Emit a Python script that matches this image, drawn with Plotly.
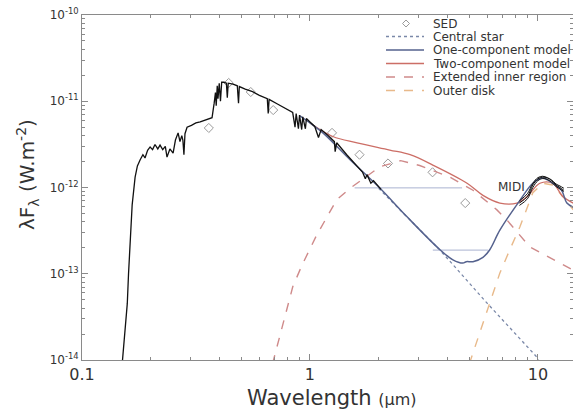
import plotly.graph_objects as go

# ---------------- data (wavelength in micron, lambda*F_lambda in W m^-2) ----------------
star_wl = [0.150, 0.153, 0.156, 0.158, 0.160, 0.162, 0.166, 0.171, 0.175, 0.180, 0.185, 0.189,
           0.194, 0.199, 0.204, 0.209, 0.215, 0.220, 0.226, 0.232, 0.236, 0.243, 0.251, 0.257,
           0.264, 0.269, 0.274, 0.277, 0.280, 0.283, 0.289, 0.302, 0.316, 0.330, 0.355, 0.372,
           0.380, 0.385, 0.388, 0.392, 0.395, 0.400, 0.405, 0.410, 0.420, 0.430, 0.434, 0.438,
           0.460, 0.480, 0.486, 0.490, 0.520, 0.560, 0.600, 0.650, 0.656, 0.662, 0.720, 0.780,
           0.840, 0.860, 0.870, 0.890, 0.900, 0.920, 0.930, 0.955, 0.965, 1.00, 1.05, 1.09,
           1.12, 1.20, 1.28, 1.29, 1.31, 1.45, 1.60, 1.70, 1.75, 1.78, 1.85, 1.90, 2.05]
star_flux = [8.9e-15, 1.78e-14, 3.2e-14, 4.5e-14, 1.0e-13, 2.0e-13, 6.3e-13, 1.32e-12, 1.78e-12, 2.1e-12, 2.4e-12, 2.2e-12,
             2.7e-12, 2.95e-12, 2.75e-12, 3.15e-12, 2.8e-12, 3.1e-12, 2.75e-12, 3.0e-12, 2.25e-12, 2.8e-12, 2.5e-12, 3.55e-12,
             4.3e-12, 3.4e-12, 4.0e-12, 3.55e-12, 2.4e-12, 4.2e-12, 5.0e-12, 5.25e-12, 5.6e-12, 5.75e-12, 6.2e-12, 6.45e-12,
             9.5e-12, 1.26e-11, 8.9e-12, 1.51e-11, 1.07e-11, 1.62e-11, 1.0e-11, 1.66e-11, 1.66e-11, 1.62e-11, 1.10e-11, 1.62e-11,
             1.58e-11, 1.51e-11, 9.5e-12, 1.48e-11, 1.38e-11, 1.29e-11, 1.17e-11, 1.07e-11, 7.2e-12, 1.05e-11, 9.3e-12, 8.3e-12,
             7.4e-12, 5.0e-12, 7.2e-12, 4.8e-12, 6.9e-12, 4.7e-12, 6.6e-12, 4.8e-12, 6.3e-12, 5.75e-12, 5.1e-12, 3.8e-12,
             4.7e-12, 4.0e-12, 3.4e-12, 2.6e-12, 3.3e-12, 2.4e-12, 1.82e-12, 1.51e-12, 1.26e-12, 1.41e-12, 1.12e-12, 1.20e-12, 9.5e-13]

sed_wl = [0.36, 0.44, 0.55, 0.69, 1.25, 1.65, 2.2, 3.45, 4.8]
sed_flux = [4.9e-12, 1.63e-11, 1.28e-11, 7.9e-12, 4.3e-12, 2.4e-12, 1.9e-12, 1.5e-12, 6.6e-13]

cstar_wl = [2.0, 3.72, 5.97, 9.9, 10.2]
cstar_flux = [9.8e-13, 1.88e-13, 4.6e-14, 1.08e-14, 8.9e-15]

one_wl = [0.90, 1.00, 1.14, 1.50, 2.03, 2.66, 3.72, 4.24, 4.69, 4.85, 5.19, 5.74, 6.15,
          6.81, 8.34, 9.50, 10.5, 11.6, 12.7, 13.4, 14.3]
one_flux = [6.8e-12, 5.6e-12, 4.3e-12, 2.1e-12, 9.8e-13, 4.6e-13, 1.9e-13, 1.45e-13, 1.33e-13, 1.38e-13, 1.38e-13, 1.55e-13, 1.9e-13,
            3.2e-13, 7.1e-13, 1.12e-12, 1.29e-12, 1.12e-12, 9.3e-13, 6.6e-13, 5.9e-13]

two_wl = [1.00, 1.26, 1.61, 2.24, 2.75, 3.46, 4.89, 5.74, 6.81, 8.09, 8.95, 10.2, 11.6, 12.9, 14.3]
two_flux = [5.6e-12, 3.9e-12, 3.3e-12, 2.72e-12, 2.4e-12, 1.82e-12, 1.12e-12, 8.1e-13, 6.6e-13, 6.6e-13, 7.8e-13,
            1.12e-12, 1.12e-12, 7.8e-13, 6.6e-13]

inner_wl = [0.685, 0.841, 0.923, 1.07, 1.31, 1.50, 2.03, 2.50, 3.03, 4.11, 5.19, 6.61, 7.31, 9.23, 14.3]
inner_flux = [9.0e-15, 7.1e-14, 1.26e-13, 2.8e-13, 7.2e-13, 9.8e-13, 1.74e-12, 2.05e-12, 1.8e-12, 1.32e-12, 9.3e-13,
              5.5e-13, 4.2e-13, 2.04e-13, 1.1e-13]

outer_wl = [5.0, 5.86, 6.81, 7.53, 8.34, 9.50, 10.5, 11.6, 12.9, 14.3]
outer_flux = [9.0e-15, 3.2e-14, 1.02e-13, 1.9e-13, 3.5e-13, 8.7e-13, 1.12e-12, 1.07e-12, 7.8e-13, 5.5e-13]

band1_wl = [1.57, 4.65]
band1_flux = [9.9e-13, 9.9e-13]
band2_wl = [3.46, 6.04]
band2_flux = [1.88e-13, 1.88e-13]

midi_wl = [8.3, 9.0, 9.5, 10.0, 10.5, 11.0, 11.5, 12.0, 12.5, 13.0]
midi_flux_a = [6.6e-13, 7.9e-13, 1.07e-12, 1.26e-12, 1.32e-12, 1.29e-12, 1.20e-12, 1.07e-12, 1.0e-12, 9.3e-13]
midi_flux_b = [6.2e-13, 7.4e-13, 1.0e-12, 1.20e-12, 1.27e-12, 1.24e-12, 1.15e-12, 1.03e-12, 9.6e-13, 9.0e-13]
midi_flux_c = [7.0e-13, 8.5e-13, 1.12e-12, 1.30e-12, 1.35e-12, 1.30e-12, 1.22e-12, 1.10e-12, 1.04e-12, 9.8e-13]

x_ticks = [0.1, 1, 10]
x_ticktext = ["0.1", "1", "10"]
y_ticks = [1e-14, 1e-13, 1e-12, 1e-11, 1e-10]
y_ticktext = ["10<sup>-14</sup>", "10<sup>-13</sup>", "10<sup>-12</sup>", "10<sup>-11</sup>", "10<sup>-10</sup>"]

legend_labels = ["SED", "Central star", "One-component model", "Two-component model",
                 "Extended inner region", "Outer disk"]

# ---------------- styles ----------------
C_STAR = "#111111"
C_SED = "#9a9a9a"
C_CSTAR = "#7a88a8"
C_ONE = "#55628e"
C_TWO = "#cc6e66"
C_INNER = "#cf8a8a"
C_OUTER = "#e8b98a"
C_BAND = "#a9b2d0"
C_AXIS = "#8a8a8a"
C_TEXT = "#333333"
FONT = "DejaVu Sans"

fig = go.Figure()

fig.add_trace(go.Scatter(x=sed_wl, y=sed_flux, mode="markers", name="SED",
                         marker=dict(symbol="diamond-open", size=7, color=C_SED, line=dict(width=1, color=C_SED))))
fig.add_trace(go.Scatter(x=cstar_wl, y=cstar_flux, mode="lines", name="Central star",
                         line=dict(color=C_CSTAR, width=1.3, dash="dot")))
fig.add_trace(go.Scatter(x=band1_wl, y=band1_flux, mode="lines", line=dict(color=C_BAND, width=1)))
fig.add_trace(go.Scatter(x=band2_wl, y=band2_flux, mode="lines", line=dict(color=C_BAND, width=1)))
fig.add_trace(go.Scatter(x=inner_wl, y=inner_flux, mode="lines", name="Extended inner region",
                         line=dict(color=C_INNER, width=1.4, dash="dash")))
fig.add_trace(go.Scatter(x=outer_wl, y=outer_flux, mode="lines", name="Outer disk",
                         line=dict(color=C_OUTER, width=1.4, dash="dash")))
fig.add_trace(go.Scatter(x=two_wl, y=two_flux, mode="lines", name="Two-component model",
                         line=dict(color=C_TWO, width=1.3, shape="spline")))
fig.add_trace(go.Scatter(x=one_wl, y=one_flux, mode="lines", name="One-component model",
                         line=dict(color=C_ONE, width=1.5, shape="spline")))
fig.add_trace(go.Scatter(x=star_wl, y=star_flux, mode="lines", line=dict(color=C_STAR, width=1.3)))
for mf in (midi_flux_a, midi_flux_b, midi_flux_c):
    fig.add_trace(go.Scatter(x=midi_wl, y=mf, mode="lines",
                             line=dict(color=C_STAR, width=1, shape="spline")))

fig.add_annotation(x=0.952, y=-11.99, xref="x", yref="y", text="MIDI", showarrow=False,
                   xanchor="right", yanchor="middle", font=dict(size=12, color=C_TEXT, family=FONT))

# ---------------- compact legend (drawn in paper coordinates) ----------------
L, T, W_, H_ = 82, 15, 491, 345  # plot area in pixels


def px(xp):
    return (xp - L) / W_


def py(yp):
    return (T + H_ - yp) / H_


row_y = [23.5, 36.5, 50, 63.5, 77, 90.5]
row_style = [None,
             dict(color=C_CSTAR, width=1.3, dash="dot"),
             dict(color=C_ONE, width=1.5),
             dict(color=C_TWO, width=1.3),
             dict(color=C_INNER, width=1.4, dash="dash"),
             dict(color=C_OUTER, width=1.4, dash="dash")]
for label, yy, st in zip(legend_labels, row_y, row_style):
    if st is None:
        cx, cy = px(406), py(yy)
        dx, dy = 3.5 / W_, 3.5 / H_
        fig.add_shape(type="path", xref="paper", yref="paper",
                      path=f"M {cx - dx} {cy} L {cx} {cy + dy} L {cx + dx} {cy} L {cx} {cy - dy} Z",
                      line=dict(color=C_SED, width=1), fillcolor="rgba(0,0,0,0)")
    else:
        fig.add_shape(type="line", xref="paper", yref="paper", x0=px(386), x1=px(424),
                      y0=py(yy), y1=py(yy), line=st)
    fig.add_annotation(x=px(431), y=py(yy), xref="paper", yref="paper", text=label,
                       showarrow=False, xanchor="left", yanchor="middle",
                       font=dict(size=12, color=C_TEXT, family=FONT))

# ---------------- axis titles ----------------
fig.add_annotation(x=px(332), y=py(398), xref="paper", yref="paper",
                   text="Wavelength <span style='font-size:16px'>(µm)</span>", showarrow=False,
                   xanchor="center", yanchor="middle", font=dict(size=21, color=C_TEXT, family=FONT))
fig.add_annotation(x=px(28), y=py(175), xref="paper", yref="paper", textangle=-90,
                   text="λF<sub>λ</sub> (W.m<sup>-2</sup>)", showarrow=False,
                   xanchor="center", yanchor="middle", font=dict(size=20, color=C_TEXT, family=FONT))

minor_x = [m * d for d in (0.1, 1, 10) for m in range(2, 10)]
minor_y = [m * d for d in (1e-14, 1e-13, 1e-12, 1e-11) for m in range(2, 10)]

fig.update_xaxes(type="log", range=[-1, 1.154], tickvals=x_ticks, ticktext=x_ticktext,
                 ticks="inside", ticklen=6, tickcolor=C_AXIS, showline=True, linecolor=C_AXIS,
                 linewidth=1, mirror="allticks", showgrid=False, zeroline=False, automargin=False,
                 tickfont=dict(size=16, color=C_TEXT, family=FONT),
                 minor=dict(tickvals=minor_x, ticks="inside", ticklen=3, tickcolor=C_AXIS, showgrid=False))
fig.update_yaxes(type="log", range=[-14, -10], tickvals=y_ticks, ticktext=y_ticktext,
                 ticks="inside", ticklen=6, tickcolor=C_AXIS, showline=True, linecolor=C_AXIS,
                 linewidth=1, mirror="allticks", showgrid=False, zeroline=False, automargin=False,
                 tickfont=dict(size=12, color=C_TEXT, family=FONT),
                 minor=dict(tickvals=minor_y, ticks="inside", ticklen=3, tickcolor=C_AXIS, showgrid=False))

fig.update_layout(
    width=573, height=415,
    margin=dict(l=82, r=0, t=15, b=55, autoexpand=False),
    paper_bgcolor="white", plot_bgcolor="white",
    font=dict(family=FONT, color=C_TEXT),
    showlegend=False,
)

fig.write_html("out.html", config={"displayModeBar": False},
               post_script="document.body.style.margin='0';document.body.style.padding='0';"
                           "document.body.style.overflow='hidden';")
